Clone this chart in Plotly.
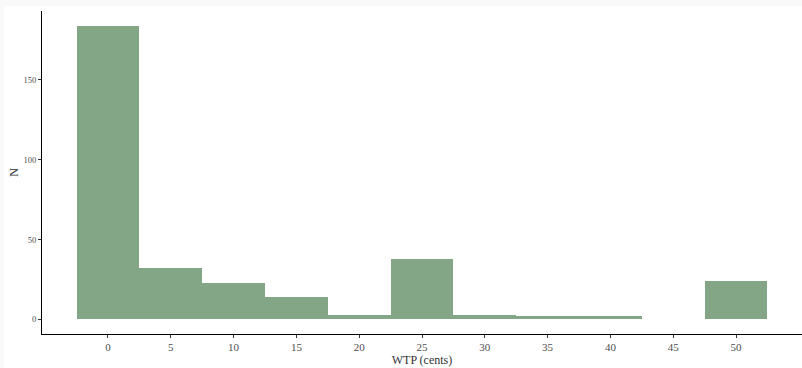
import plotly.graph_objects as go

bin_centers = [0, 5, 10, 15, 20, 25, 30, 35, 40, 45, 50]
counts = [184, 32, 23, 14, 3, 38, 3, 2, 2, 0, 24]
x_ticks = [0, 5, 10, 15, 20, 25, 30, 35, 40, 45, 50]
y_ticks = [0, 50, 100, 150]

fig = go.Figure()
fig.add_trace(go.Bar(
    x=bin_centers, y=counts, width=5,
    marker=dict(color="#82a686", line=dict(width=0)),
))

W, H = 802, 368
ml, mr, mt, mb = 42, 0, 11, 34
pw, ph = W - ml - mr, H - mt - mb

fig.update_layout(
    width=W, height=H,
    margin=dict(l=ml, r=mr, t=mt, b=mb),
    paper_bgcolor="#f9f9f9",
    plot_bgcolor="white",
    showlegend=False,
    bargap=0,
    font=dict(family="Liberation Serif", color="#4d4d4d"),
    shapes=[dict(type="rect", xref="paper", yref="paper", layer="below",
                 x0=(4 - ml) / pw, x1=(W + 5 - ml) / pw,
                 y0=-(H + 5 - mt - ph) / ph, y1=(H - 6 - mb) / ph,
                 fillcolor="white", line=dict(width=0))],
    xaxis=dict(range=[-5.25, 55.25], tickvals=x_ticks, ticks="outside", ticklen=3,
               tickcolor="#333333", showline=True, linecolor="black", linewidth=1,
               showgrid=False, zeroline=False, tickfont=dict(size=11, color="#4d4d4d"),
               title=dict(text="WTP (cents)", font=dict(size=12, color="#333333"), standoff=2)),
    yaxis=dict(range=[-9.2, 193.2], tickvals=y_ticks, ticks="outside", ticklen=3,
               tickcolor="#333333", showline=True, linecolor="black", linewidth=1,
               showgrid=False, zeroline=False, tickfont=dict(size=8.5, color="#4d4d4d"),
               title=dict(text="N", font=dict(size=12, color="#333333"), standoff=2)),
)

fig.write_html("out.html", config={"displayModeBar": False},
               post_script="document.body.style.margin='0';document.body.style.overflow='hidden';")
